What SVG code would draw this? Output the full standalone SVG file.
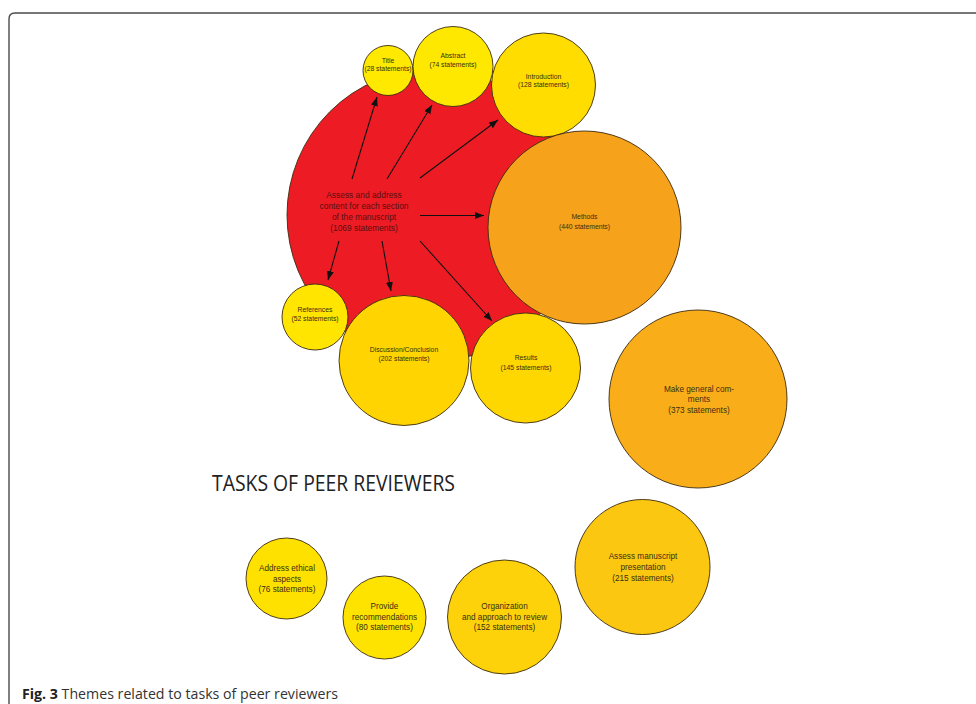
<svg xmlns="http://www.w3.org/2000/svg" width="976" height="704" viewBox="0 0 976 704">
<defs>
<marker id="ah" markerUnits="userSpaceOnUse" markerWidth="10" markerHeight="8" refX="9" refY="3.5" orient="auto">
<path d="M0,0 L9,3.5 L0,7 Z" fill="#111"/>
</marker>
<style>
.c{stroke:#3b2a10;stroke-width:0.9}
.s{font-family:"Liberation Sans",Arial,sans-serif;font-size:6.8px;fill:#3a2e12;text-anchor:middle}
.m{font-family:"Liberation Sans",Arial,sans-serif;font-size:8.2px;fill:#3a2e12;text-anchor:middle}
.r{font-family:"Liberation Sans",Arial,sans-serif;font-size:8.4px;fill:#5a0f10;text-anchor:middle}
.a{stroke:#111;stroke-width:1.1;fill:none;marker-end:url(#ah)}
</style>
</defs>
<rect width="976" height="704" fill="#fff"/>
<path d="M9,704 L9,19 Q9,13 15,13 L976,13" fill="none" stroke="#4a4a4a" stroke-width="1.4"/>

<g id="node-main">
<circle class="c" cx="433" cy="215" r="146" fill="#ED1C24"/>
<text class="r" x="364" y="198">Assess and address</text>
<text class="r" x="364" y="209">content for each section</text>
<text class="r" x="364" y="220">of the manuscript</text>
<text class="r" x="364" y="231">(1069 statements)</text>
</g>

<g id="node-title">
<circle class="c" cx="388" cy="70.5" r="25" fill="#FFE900"/>
<text class="s" x="388" y="62.5">Title</text>
<text class="s" x="388" y="71">(28 statements)</text>
</g>

<g id="node-abstract">
<circle class="c" cx="453" cy="66.5" r="40" fill="#FFE800"/>
<text class="s" x="453" y="57.5">Abstract</text>
<text class="s" x="453" y="66.5">(74 statements)</text>
</g>

<g id="node-introduction">
<circle class="c" cx="543.5" cy="85" r="52" fill="#FFDD00"/>
<text class="s" x="543.5" y="78.5">Introduction</text>
<text class="s" x="543.5" y="87">(128 statements)</text>
</g>

<g id="node-methods">
<circle class="c" cx="584.5" cy="227.5" r="96.5" fill="#F7A21B"/>
<text class="s" x="584.5" y="219">Methods</text>
<text class="s" x="584.5" y="228.5">(440 statements)</text>
</g>

<g id="node-references">
<circle class="c" cx="315" cy="317" r="33" fill="#FFE500"/>
<text class="s" x="315" y="312">References</text>
<text class="s" x="315" y="321">(52 statements)</text>
</g>

<g id="node-discussion">
<circle class="c" cx="404" cy="360.5" r="65" fill="#FFD400"/>
<text class="s" x="404" y="352">Discussion/Conclusion</text>
<text class="s" x="404" y="361">(202 statements)</text>
</g>

<g id="node-results">
<circle class="c" cx="525.5" cy="368" r="55" fill="#FFD700"/>
<text class="s" x="526" y="360">Results</text>
<text class="s" x="526" y="369.5">(145 statements)</text>
</g>

<g id="node-general">
<circle class="c" cx="698" cy="399" r="89" fill="#F9AE19"/>
<text class="m" x="699" y="392">Make general com-</text>
<text class="m" x="699" y="402">ments</text>
<text class="m" x="699" y="413">(373 statements)</text>
</g>

<g id="node-ethical">
<circle class="c" cx="286.5" cy="578.5" r="40.5" fill="#FFE100"/>
<text class="m" x="287" y="571">Address ethical</text>
<text class="m" x="287" y="582">aspects</text>
<text class="m" x="287" y="592">(76 statements)</text>
</g>

<g id="node-recommendations">
<circle class="c" cx="384.5" cy="617.5" r="41.5" fill="#FFE300"/>
<text class="m" x="384.5" y="609">Provide</text>
<text class="m" x="384.5" y="620">recommendations</text>
<text class="m" x="384.5" y="630">(80 statements)</text>
</g>

<g id="node-organization">
<circle class="c" cx="504.5" cy="617" r="57" fill="#FDD20A"/>
<text class="m" x="504.5" y="609">Organization</text>
<text class="m" x="504.5" y="620">and approach to review</text>
<text class="m" x="504.5" y="630">(152 statements)</text>
</g>

<g id="node-presentation">
<circle class="c" cx="642.5" cy="567" r="67.5" fill="#FBC711"/>
<text class="m" x="643" y="559">Assess manuscript</text>
<text class="m" x="643" y="570">presentation</text>
<text class="m" x="643" y="581">(215 statements)</text>
</g>

<g id="connectors">
<line class="a" x1="352" y1="179" x2="377" y2="97"/>
<line class="a" x1="387" y1="179" x2="432" y2="105"/>
<line class="a" x1="420" y1="178" x2="498" y2="120"/>
<line class="a" x1="420" y1="215.5" x2="484" y2="215.5"/>
<line class="a" x1="339" y1="241" x2="328" y2="280"/>
<line class="a" x1="382" y1="241" x2="391" y2="291"/>
<line class="a" x1="420" y1="241" x2="492" y2="321"/>
</g>

<text x="212" y="491" font-family="'Open Sans','Liberation Sans',sans-serif" font-size="21" fill="#222" textLength="243" lengthAdjust="spacingAndGlyphs">TASKS OF PEER REVIEWERS</text>
<text x="22" y="699" font-family="'Open Sans','Liberation Sans',sans-serif" font-size="14" fill="#333" textLength="316" lengthAdjust="spacingAndGlyphs"><tspan font-weight="bold" fill="#222">Fig. 3</tspan> Themes related to tasks of peer reviewers</text>
</svg>
